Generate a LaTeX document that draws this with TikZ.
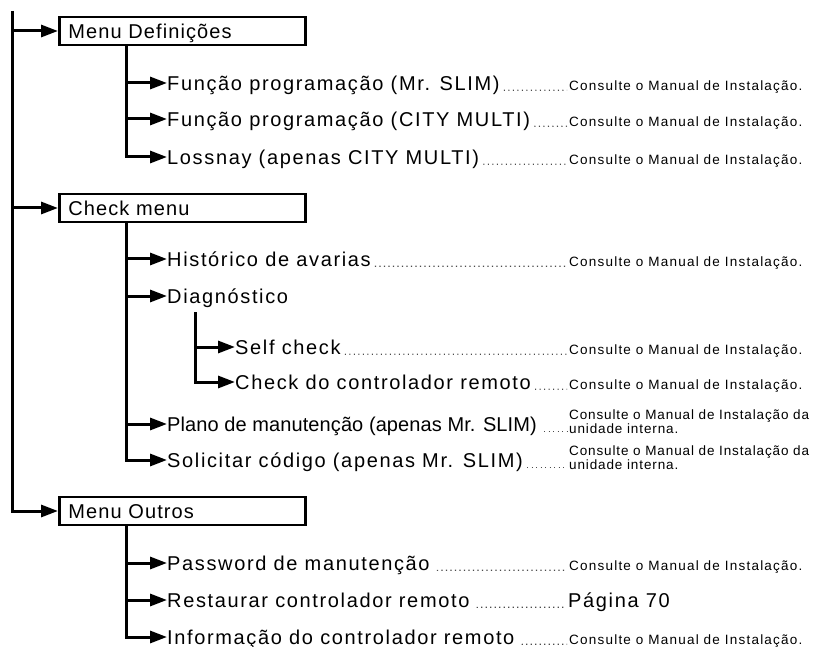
\documentclass[tikz,border=0pt]{standalone}
\usepackage{fontspec}
\setmainfont{Liberation Sans}
\newfontfamily\itemfont[LetterSpace=8.2]{Liberation Sans}
\newfontfamily\boxfont[LetterSpace=5.5]{Liberation Sans}
\newfontfamily\tightfont[LetterSpace=0.5]{Liberation Sans}
\newfontfamily\notefont[LetterSpace=9]{Liberation Sans}
\newfontfamily\notetightfont[LetterSpace=6.5]{Liberation Sans}
\usetikzlibrary{arrows.meta,calc}
\tikzset{
  ln/.style={line width=3pt},
  arr/.style={ln, -{Triangle[length=17pt,width=12pt]}},
  menubox/.style={draw, line width=2.8pt, anchor=west, minimum width=246pt,
    minimum height=28pt, text width=228pt, align=left, inner xsep=9pt,
    inner ysep=0pt, text height=14.3pt, text depth=0pt,
    font=\boxfont\fontsize{20}{24}\selectfont},
  item/.style={anchor=west, inner sep=0pt, text height=14.3pt, text depth=0pt,
    font=\itemfont\fontsize{20}{24}\selectfont},
  tightitem/.style={item, font=\tightfont\fontsize{20}{24}\selectfont},
  note/.style={anchor=base west, inner sep=0pt,
    font=\notefont\fontsize{13.5}{16}\selectfont},
  note2/.style={note, font=\notetightfont\fontsize{13.5}{16}\selectfont},
  leader/.style={line width=1.2pt, dash pattern=on 1.2pt off 3.3pt, black!70},
}
\begin{document}
\begin{tikzpicture}[x=1pt,y=-1pt]
\useasboundingbox (0,0) rectangle (825,647);
% menus
\node[menubox] (m1) at (58,31) {Menu Definições};
\node[menubox] (m2) at (58,208) {Check menu};
\node[menubox] (m3) at (58,511) {Menu Outros};
\coordinate (top) at (12.5,11);
\draw[arr] (top) |- (m3.west);
\draw[arr] (top |- m1.west) -- (m1.west);
\draw[arr] (top |- m2.west) -- (m2.west);
% Menu Definicoes
\path (m1.south west) ++(68,0) coordinate (s1);
\node[item] (f1) at (167,83) {Função programação (Mr. SLIM)};
\node[item] (f2) at (167,119) {Função programação (CITY MULTI)};
\node[item] (f3) at (167,157) {Lossnay (apenas CITY MULTI)};
\draw[arr] (s1) |- (f3.west);
\draw[arr] (s1 |- f1.west) -- (f1.west);
\draw[arr] (s1 |- f2.west) -- (f2.west);
\node[note] (n1) at (569,90.15) {Consulte o Manual de Instalação.};
\node[note] (n2) at (569,126.15) {Consulte o Manual de Instalação.};
\node[note] (n3) at (569,164.15) {Consulte o Manual de Instalação.};
\draw[leader] ($(f1.south east)+(4,0)$) -- ($(n1.base west)+(-2,0)$);
\draw[leader] ($(f2.south east)+(4,0)$) -- ($(n2.base west)+(-2,0)$);
\draw[leader] ($(f3.south east)+(4,0)$) -- ($(n3.base west)+(-2,0)$);
% Check menu
\path (m2.south west) ++(68,0) coordinate (s2);
\node[item] (c1) at (167,259) {Histórico de avarias};
\node[item] (c2) at (167,296) {Diagnóstico};
\node[tightitem] (c5) at (167,424) {Plano de manutenção (apenas Mr. SLIM)};
\node[item] (c6) at (167,460) {Solicitar código (apenas Mr. SLIM)};
\draw[arr] (s2) |- (c6.west);
\draw[arr] (s2 |- c1.west) -- (c1.west);
\draw[arr] (s2 |- c2.west) -- (c2.west);
\draw[arr] (s2 |- c5.west) -- (c5.west);
\coordinate (s3) at (195,312);
\node[item] (c3) at (235,347) {Self check};
\node[item] (c4) at (235,382) {Check do controlador remoto};
\draw[arr] (s3) |- (c4.west);
\draw[arr] (s3 |- c3.west) -- (c3.west);
\node[note] (n4) at (569,266.15) {Consulte o Manual de Instalação.};
\node[note] (n5) at (569,354.15) {Consulte o Manual de Instalação.};
\node[note] (n6) at (569,389.15) {Consulte o Manual de Instalação.};
\node[note2] (n7) at (569,419) {Consulte o Manual de Instalação da};
\node[note2] (n7b) at (569,433.5) {unidade interna.};
\node[note2] (n8) at (569,455) {Consulte o Manual de Instalação da};
\node[note2] (n8b) at (569,469.5) {unidade interna.};
\draw[leader] ($(c1.south east)+(4,0)$) -- ($(n4.base west)+(-2,0)$);
\draw[leader] ($(c3.south east)+(4,0)$) -- ($(n5.base west)+(-2,0)$);
\draw[leader] ($(c4.south east)+(4,0)$) -- ($(n6.base west)+(-2,0)$);
\draw[leader] ($(c5.south east)+(7,0)$) -- ($(c5.south east -| n7.west)+(-2,0)$);
\draw[leader] ($(c6.south east)+(4,0)$) -- ($(c6.south east -| n8.west)+(-2,0)$);
% Menu Outros
\path (m3.south west) ++(68,0) coordinate (s4);
\node[item] (o1) at (167,563) {Password de manutenção};
\node[item] (o2) at (167,600) {Restaurar controlador remoto};
\node[item] (o3) at (167,637) {Informação do controlador remoto};
\draw[arr] (s4) |- (o3.west);
\draw[arr] (s4 |- o1.west) -- (o1.west);
\draw[arr] (s4 |- o2.west) -- (o2.west);
\node[note] (n9) at (569,570.15) {Consulte o Manual de Instalação.};
\node[item, anchor=base west] (p70) at (568,607.15) {Página 70};
\node[note] (n10) at (569,644.15) {Consulte o Manual de Instalação.};
\draw[leader] ($(o1.south east)+(7,0)$) -- ($(n9.base west)+(-2,0)$);
\draw[leader] ($(o2.south east)+(7,0)$) -- ($(p70.base west)+(-2,0)$);
\draw[leader] ($(o3.south east)+(7,0)$) -- ($(n10.base west)+(-2,0)$);
\end{tikzpicture}
\end{document}
